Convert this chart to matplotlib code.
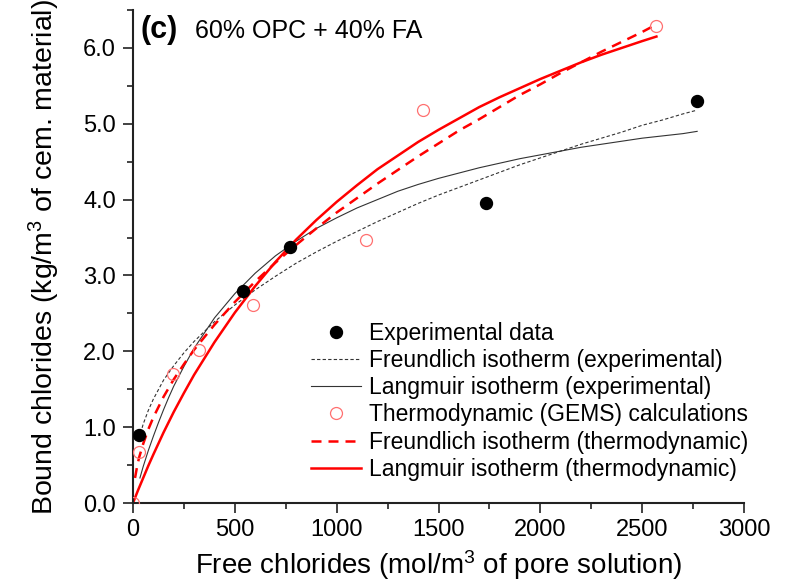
import matplotlib
matplotlib.use("Agg")
import matplotlib.pyplot as plt
from matplotlib.ticker import MultipleLocator, FormatStrFormatter

plt.rcParams['font.family'] = ['Liberation Sans', 'DejaVu Sans']
plt.rcParams['mathtext.fontset'] = 'custom'
plt.rcParams['mathtext.rm'] = 'Liberation Sans'
plt.rcParams['mathtext.default'] = 'regular'

# measured points
exp_x = [30, 540, 770, 1735, 2770]
exp_y = [0.90, 2.79, 3.37, 3.96, 5.30]
gems_x = [0, 30, 196, 325, 590, 1145, 1425, 2570]
gems_y = [0.00, 0.67, 1.70, 2.02, 2.61, 3.47, 5.18, 6.29]

# isotherm curves
fr_exp_x = [30, 50, 75, 100, 150, 200, 250, 300, 400, 500, 600, 700, 800, 900,
            1000, 1100, 1200, 1300, 1400, 1500, 1600, 1700, 1800, 1900, 2000,
            2100, 2200, 2300, 2400, 2500, 2600, 2700, 2770]
fr_exp_y = [0.85, 1.04, 1.22, 1.37, 1.62, 1.81, 1.98, 2.13, 2.39, 2.61, 2.81, 2.99,
            3.16, 3.31, 3.45, 3.58, 3.71, 3.83, 3.95, 4.06, 4.16, 4.26, 4.36, 4.46,
            4.55, 4.64, 4.73, 4.81, 4.89, 4.98, 5.05, 5.13, 5.18]
la_exp_x = [34, 50, 75, 100, 125, 150, 175, 200, 250, 300, 400, 500, 600, 700, 800,
            900, 1000, 1100, 1200, 1300, 1400, 1500, 1600, 1700, 1800, 1900, 2000,
            2100, 2200, 2300, 2400, 2500, 2600, 2700, 2770]
la_exp_y = [0.33, 0.48, 0.69, 0.88, 1.06, 1.23, 1.39, 1.54, 1.80, 2.04, 2.44, 2.76,
            3.03, 3.26, 3.45, 3.62, 3.76, 3.89, 4.00, 4.11, 4.20, 4.28, 4.35, 4.42,
            4.48, 4.54, 4.59, 4.64, 4.69, 4.73, 4.77, 4.81, 4.84, 4.87, 4.90]
fr_th_x = [10, 20, 30, 50, 75, 100, 150, 200, 250, 300, 400, 500, 600, 700, 800,
           900, 1000, 1100, 1200, 1300, 1400, 1500, 1600, 1700, 1800, 1900, 2000,
           2100, 2200, 2300, 2400, 2500, 2570]
fr_th_y = [0.33, 0.48, 0.60, 0.78, 0.97, 1.13, 1.40, 1.63, 1.83, 2.02, 2.35, 2.65,
           2.92, 3.17, 3.40, 3.62, 3.83, 4.02, 4.21, 4.39, 4.57, 4.74, 4.91, 5.06,
           5.22, 5.38, 5.52, 5.67, 5.81, 5.95, 6.08, 6.21, 6.31]
la_th_x = [0, 25, 50, 75, 100, 150, 200, 250, 300, 400, 500, 600, 700, 800, 900,
           1000, 1100, 1200, 1300, 1400, 1500, 1600, 1700, 1800, 1900, 2000, 2100,
           2200, 2300, 2400, 2500, 2570]
la_th_y = [0.00, 0.17, 0.33, 0.49, 0.64, 0.93, 1.20, 1.45, 1.69, 2.12, 2.51, 2.86,
           3.18, 3.47, 3.73, 3.97, 4.19, 4.40, 4.58, 4.76, 4.92, 5.07, 5.22, 5.35,
           5.47, 5.59, 5.70, 5.81, 5.91, 6.00, 6.09, 6.15]

fig = plt.figure(figsize=(7.94, 5.83), dpi=100)
ax = fig.add_axes([133/794, 80/583, 611/794, 493/583])

ax.plot(exp_x, exp_y, 'o', color='black', markersize=8.6, zorder=5,
        label='Experimental data')
ax.plot(fr_exp_x, fr_exp_y, color='#333333', lw=0.8, dashes=(3, 2),
        label='Freundlich isotherm (experimental)')
ax.plot(la_exp_x, la_exp_y, color='#333333', lw=0.8,
        label='Langmuir isotherm (experimental)')
ax.plot(gems_x, gems_y, 'o', mfc='none', mec='#ff7070', mew=0.9, markersize=8.6,
        zorder=5, label='Thermodynamic (GEMS) calculations')
ax.plot(fr_th_x, fr_th_y, color='red', lw=1.8, dashes=(4, 2.8),
        label='Freundlich isotherm (thermodynamic)')
ax.plot(la_th_x, la_th_y, color='red', lw=1.8,
        label='Langmuir isotherm (thermodynamic)')

ax.set_xlim(0, 3000)
ax.set_ylim(0, 6.5)
ax.xaxis.set_major_locator(MultipleLocator(500))
ax.xaxis.set_minor_locator(MultipleLocator(250))
ax.yaxis.set_major_locator(MultipleLocator(1.0))
ax.yaxis.set_minor_locator(MultipleLocator(0.5))
ax.yaxis.set_major_formatter(FormatStrFormatter('%.1f'))

for s in ['top', 'right']:
    ax.spines[s].set_visible(False)
for s in ['left', 'bottom']:
    ax.spines[s].set_linewidth(1.5)
    ax.spines[s].set_color('#222222')
ax.tick_params(which='major', length=7.5, width=1.2, labelsize=17, color='#222222')
ax.tick_params(which='minor', length=4, width=1.2, color='#222222')
ax.tick_params(axis='x', which='major', pad=4)
ax.tick_params(axis='y', which='major', pad=4.7)

ax.set_xlabel('Free chlorides (mol/m$^3$ of pore solution)', fontsize=20)
ax.set_ylabel('Bound chlorides (kg/m$^3$ of cem. material)', fontsize=20.5)
ax.xaxis.set_label_coords(0.5, -0.091)
ax.yaxis.set_label_coords(-0.117, 0.5)

ax.text(0.013, 0.959, '(c)', transform=ax.transAxes, fontsize=22,
        fontweight='bold', va='center', ha='left')
ax.text(0.101, 0.957, '60% OPC + 40% FA', transform=ax.transAxes, fontsize=18,
        va='center', ha='left')

ax.legend(loc='upper left', bbox_to_anchor=(0.291, 0.367), frameon=False,
          fontsize=16.5, borderpad=0, borderaxespad=0, labelspacing=0.18,
          handlelength=2.2, handletextpad=0.35, numpoints=1)

fig.savefig('out.png', dpi=100)
